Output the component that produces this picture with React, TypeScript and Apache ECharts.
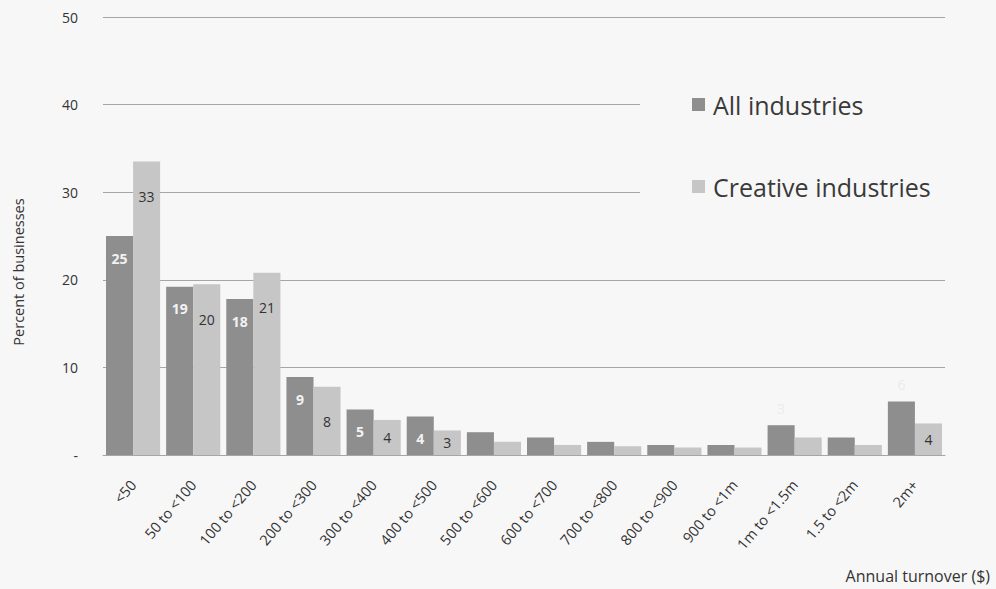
import React, { useEffect, useRef } from "react";
import * as echarts from "echarts";

const categories = [
  "<50", "50 to <100", "100 to <200", "200 to <300", "300 to <400", "400 to <500",
  "500 to <600", "600 to <700", "700 to <800", "800 to <900", "900 to <1m",
  "1m to <1.5m", "1.5 to <2m", "2m+",
];
const allIndustries = [25.0, 19.2, 17.8, 8.9, 5.2, 4.4, 2.6, 2.0, 1.5, 1.15, 1.15, 3.4, 2.0, 6.1];
const creativeIndustries = [33.5, 19.5, 20.8, 7.8, 4.0, 2.8, 1.5, 1.15, 1.0, 0.85, 0.85, 2.0, 1.15, 3.6];
const allLabels = ["25", "19", "18", "9", "5", "4", "", "", "", "", "", "3", "", "6"];
const creativeLabels = ["33", "20", "21", "8", "4", "3", "", "", "", "", "", "", "", "4"];
const faintAllLabelCats = ["1m to <1.5m", "2m+"];
const yTicks = [0, 10, 20, 30, 40, 50];

const FONT = "'Open Sans', Lato, sans-serif";

export default function App() {
  const ref = useRef<HTMLDivElement>(null);
  useEffect(() => {
    if (!ref.current) return;
    const chart = echarts.init(ref.current, null, { renderer: "svg" });

    const darkData = allIndustries.map((v, i) => {
      const faint = faintAllLabelCats.includes(categories[i]);
      return {
        value: v,
        label: faint
          ? { show: allLabels[i] !== "", position: "top", distance: 10, color: "#ebebeb", fontWeight: "normal" }
          : { show: allLabels[i] !== "", position: "insideTop", distance: 15 },
      };
    });
    const lightData = creativeIndustries.map((v, i) => ({
      value: v,
      label: v >= 5
        ? { show: creativeLabels[i] !== "", position: "insideTop", distance: 28 }
        : { show: creativeLabels[i] !== "", position: "inside" },
    }));

    chart.setOption({
      animation: false,
      backgroundColor: "#f7f7f7",
      textStyle: { fontFamily: FONT },
      grid: { left: 103, right: 51, top: 17, bottom: 134, containLabel: false },
      legend: {
        orient: "vertical",
        left: 640,
        top: 68,
        padding: [24, 50, 24, 52],
        backgroundColor: "#f7f7f7",
        itemWidth: 13,
        itemHeight: 13,
        itemGap: 57,
        icon: "rect",
        textStyle: { fontSize: 25, color: "#3a3a3a", fontFamily: FONT, padding: [0, 0, 0, 3] },
        data: ["All industries", "Creative industries"],
      },
      xAxis: {
        type: "category",
        data: categories,
        axisLine: { lineStyle: { color: "#a6a6a6", width: 1 } },
        axisTick: { show: false },
        axisLabel: { rotate: 50, margin: 27, fontSize: 14.5, color: "#333", fontFamily: FONT, interval: 0 },
      },
      yAxis: {
        type: "value",
        min: yTicks[0],
        max: yTicks[yTicks.length - 1],
        interval: 10,
        axisLine: { show: false },
        axisTick: { show: false },
        axisLabel: {
          margin: 25,
          fontSize: 14,
          color: "#333",
          fontFamily: FONT,
          formatter: (v: number) => (v === 0 ? "-" : String(v)),
        },
        splitLine: { lineStyle: { color: "#a6a6a6", width: 1 } },
      },
      graphic: [
        {
          type: "text",
          x: 18,
          y: 272,
          rotation: Math.PI / 2,
          style: {
            text: "Percent of businesses",
            fill: "#333",
            font: `14.5px ${FONT}`,
            textAlign: "center",
            textVerticalAlign: "middle",
          },
        },
        {
          type: "text",
          right: 6,
          bottom: 5,
          style: { text: "Annual turnover ($)", fill: "#333", font: `16px ${FONT}` },
        },
      ],
      series: [
        {
          name: "All industries",
          type: "bar",
          barGap: "0%",
          barCategoryGap: "10%",
          itemStyle: { color: "#8e8e8e" },
          label: {
            show: true,
            color: "#f2f2f2",
            fontWeight: "bold",
            fontSize: 14,
            fontFamily: FONT,
            formatter: (p: any) => allLabels[p.dataIndex],
          },
          data: darkData,
        },
        {
          name: "Creative industries",
          type: "bar",
          barGap: "0%",
          barCategoryGap: "10%",
          itemStyle: { color: "#c6c6c6" },
          label: {
            show: true,
            color: "#333",
            fontSize: 14,
            fontFamily: FONT,
            formatter: (p: any) => creativeLabels[p.dataIndex],
          },
          data: lightData,
        },
      ],
    });
    return () => chart.dispose();
  }, []);
  return <div ref={ref} style={{ width: 996, height: 589, position: "absolute", left: 0, top: 0 }} />;
}
